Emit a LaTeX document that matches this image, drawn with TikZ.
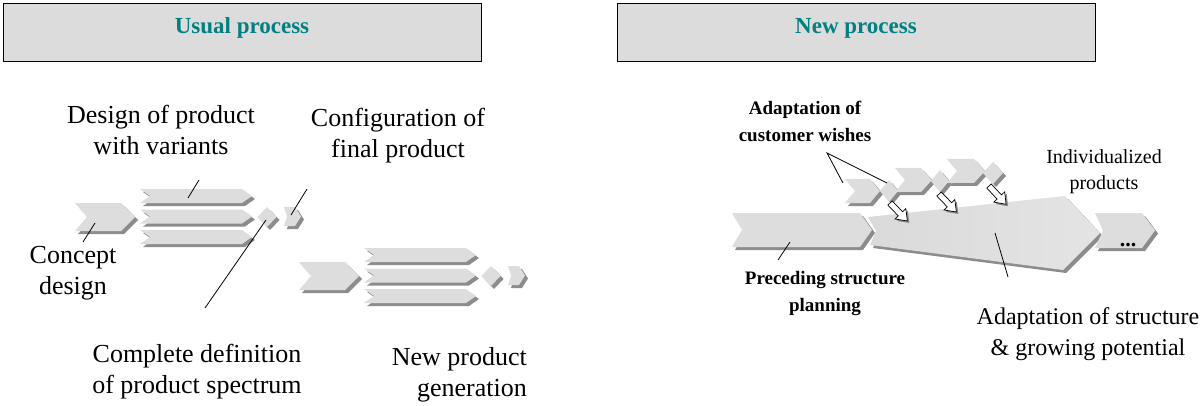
\documentclass[tikz,border=0pt]{standalone}
\usepackage{fontspec}
\setmainfont{Liberation Serif}
\usetikzlibrary{calc}
\definecolor{shp}{RGB}{221,221,221}
\definecolor{shd}{RGB}{140,140,140}
\definecolor{hdrc}{RGB}{220,220,220}
\definecolor{hdrshd}{RGB}{90,90,90}
\definecolor{tealc}{RGB}{0,128,128}
\definecolor{polyl}{RGB}{218,218,218}
\definecolor{polyr}{RGB}{228,228,228}
\tikzset{
  shapefill/.style={fill=shp},
  shadowfill/.style={fill=shd},
  hdrbox/.style={draw=black, line width=0.8pt, fill=hdrc, inner sep=0pt,
    minimum width=478pt, minimum height=58pt},
  hdrtitle/.style={font=\fontsize{23}{27}\selectfont\bfseries, text=tealc,
    inner sep=0pt, anchor=base},
  lbl/.style={font=\fontsize{26}{31}\selectfont, align=center, inner sep=0pt},
  rlbl/.style={font=\fontsize{24}{31}\selectfont, align=center, inner sep=0pt},
  slbl/.style={font=\fontsize{20}{26}\selectfont, align=center, inner sep=0pt},
  blbl/.style={font=\fontsize{19}{27}\selectfont\bfseries, align=center, inner sep=0pt},
  leader/.style={draw=black, line width=0.8pt},
  hollowarrow/.style={fill=white, draw=black, line width=0.7pt, line join=miter},
}
% chevron: x y width height notch tip shadow
\newcommand\chevr[7]{%
  \begin{scope}[shift={(#1,#2)}]
    \fill[shadowfill] (#7,#7) -- ++(#3-#6,0) -- ++(#6,#4/2) -- ++(-#6,#4/2) -- ++(#6-#3,0) -- ++(#5,-#4/2) -- cycle;
    \fill[shapefill] (0,0) -- ++(#3-#6,0) -- ++(#6,#4/2) -- ++(-#6,#4/2) -- ++(#6-#3,0) -- ++(#5,-#4/2) -- cycle;
  \end{scope}}
% diamond: cx cy halfwidth halfheight shadow
\newcommand\diam[5]{%
  \begin{scope}[shift={(#1,#2)}]
    \fill[shadowfill] (-#3+#5,#5) -- (#5,-#4+#5) -- (#3+#5,#5) -- (#5,#4+#5) -- cycle;
    \fill[shapefill] (-#3,0) -- (0,-#4) -- (#3,0) -- (0,#4) -- cycle;
  \end{scope}}
% hollow block arrow: x y angle (clockwise, downwards)
\newcommand\harrow[3]{%
  \begin{scope}[shift={(#1+2,#2+2)}, rotate=-#3]
    \fill[shadowfill] (0,-3) -- (15,-3) -- (15,-7.5) -- (25,0) -- (15,7.5) -- (15,3) -- (0,3) -- cycle;
  \end{scope}
  \begin{scope}[shift={(#1,#2)}, rotate=-#3]
    \draw[hollowarrow] (0,-3) -- (15,-3) -- (15,-7.5) -- (25,0) -- (15,7.5) -- (15,3) -- (0,3) -- cycle;
  \end{scope}}
\begin{document}
\begin{tikzpicture}[x=1pt,y=-1pt]
\useasboundingbox (0,0) rectangle (1201,406);

% headers
\fill[hdrshd] (4.5,4.5) rectangle (482,62.5);
\node[hdrbox] (hdrL) at (242,32) {};
\node[hdrtitle] (hdrLt) at (242,34) {Usual process};
\fill[hdrshd] (618.5,4.5) rectangle (1096,62.5);
\node[hdrbox] (hdrR) at (856,32) {};
\node[hdrtitle] (hdrRt) at (856,34) {New process};

% ---------- usual process, first generation
\chevr{75}{203}{60}{28}{12}{14}{3}
\chevr{140}{189}{112}{14}{10}{10}{3}
\chevr{140}{209.5}{112}{14}{10}{10}{3}
\chevr{140}{230}{112}{14}{10}{10}{3}
\diam{267}{217}{9.5}{10}{3}
\chevr{284}{207}{17}{19}{3}{6}{3}

% ---------- usual process, new generation
\begin{scope}[shift={(224,59)}]
\chevr{75}{203}{60}{28}{12}{14}{3}
\chevr{140}{189}{112}{14}{10}{10}{3}
\chevr{140}{209.5}{112}{14}{10}{10}{3}
\chevr{140}{230}{112}{14}{10}{10}{3}
\diam{267}{217}{9.5}{10}{3}
\chevr{284}{207}{17}{19}{3}{6}{3}
\end{scope}

% labels left
\node[lbl] (tdesign) at (161,130) {Design of product\\with variants};
\node[lbl] (tconfig) at (398,136) {Configuration of\\final product};
\node[lbl] (tconcept) at (73,273) {Concept\\design};
\node[lbl] (tcomplete) at (197,372) {Complete definition\\of product spectrum};
\node[lbl, align=right, anchor=east] (tnew) at (527,375) {New product\\generation};

% leaders left
\coordinate (lda) at (199,180); \coordinate (ldb) at (188,198);
\draw[leader] (lda) -- (ldb);
\coordinate (lca) at (307,189); \coordinate (lcb) at (291,215);
\draw[leader] (lca) -- (lcb);
\coordinate (lna) at (95,223); \coordinate (lnb) at (83,242);
\draw[leader] (lna) -- (lnb);
\coordinate (lpa) at (266,220); \coordinate (lpb) at (205,308);
\draw[leader] (lpa) -- (lpb);

% ---------- new process
\chevr{732}{213}{140}{34}{10}{12}{3}
\fill[shadowfill] (871,220) -- (1068,199) -- (1103,236) -- (1066,273) -- (873,248) -- (879,234) -- cycle;
\shade[left color=polyl, right color=polyr] (868,217) -- (1065,196) -- (1100,233) -- (1063,270) -- (870,245) -- (876,231) -- cycle;
\chevr{1095}{213}{60}{35}{8}{13}{3}
\node[font=\fontsize{22}{26}\selectfont\bfseries, anchor=base, inner sep=0pt] (dots) at (1128,246) {...};

\chevr{845}{179}{35}{24}{10}{10}{3}
\diam{889}{191}{9}{11}{3}
\chevr{895}{168}{37}{24}{10}{11}{3}
\diam{940}{181}{9}{11}{3}
\chevr{947}{159}{38}{24}{10}{11}{3}
\diam{993}{173}{10}{11}{3}

\harrow{890}{203}{46}
\harrow{939}{194}{46}
\harrow{989}{186}{47}

% labels right
\node[blbl] (tcust) at (805,121) {Adaptation of\\customer wishes};
\node[blbl] (tprec) at (825,294) {Preceding structure\\planning};
\node[slbl] (tindiv) at (1104,172) {Individualized\\products};
\node[rlbl] (tadapt) at (1088,334) {Adaptation of structure\\\& growing potential};

% leaders right
\coordinate (lwa) at (827,153); \coordinate (lwb) at (843,183); \coordinate (lwc) at (887,183);
\draw[leader] (lwb) -- (lwa) -- (lwc);
\coordinate (lra) at (790,242); \coordinate (lrb) at (778,260);
\draw[leader] (lra) -- (lrb);
\coordinate (lsa) at (995,233); \coordinate (lsb) at (1008,277);
\draw[leader] (lsa) -- (lsb);
\end{tikzpicture}
\end{document}
